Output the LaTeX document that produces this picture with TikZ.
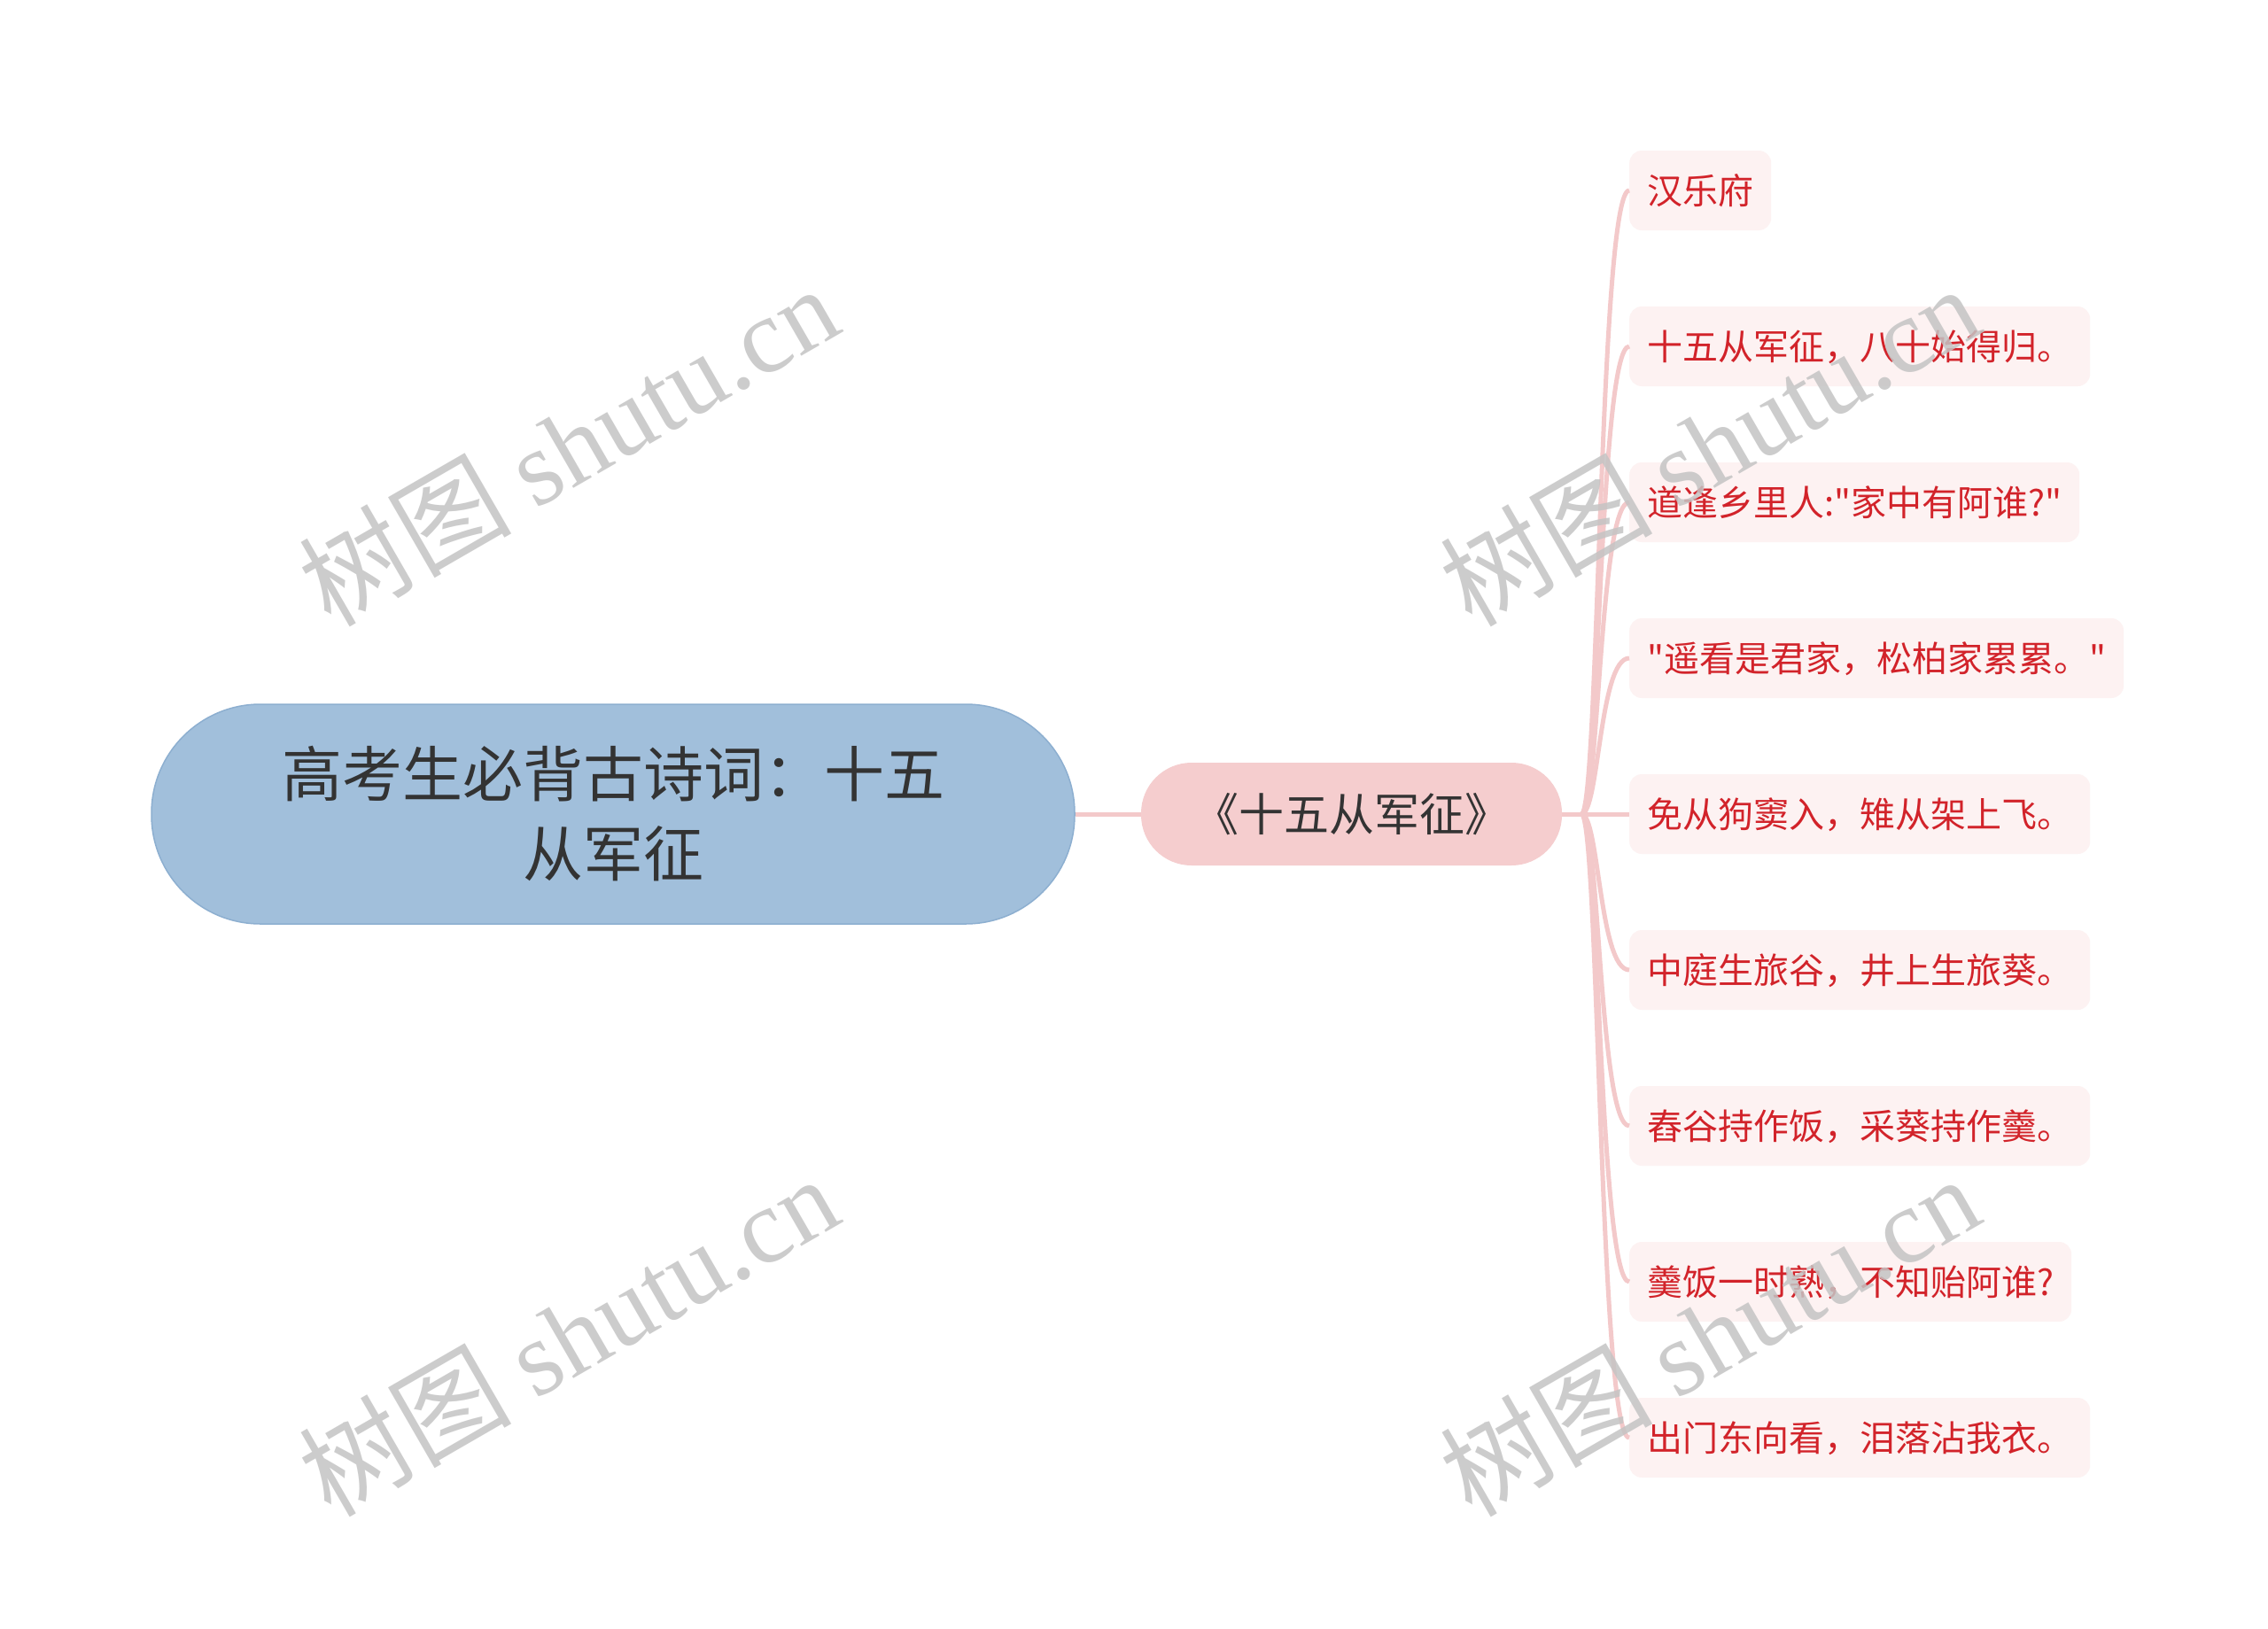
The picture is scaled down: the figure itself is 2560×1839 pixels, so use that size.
\documentclass[tikz,border=0pt]{standalone}
\usepackage{fontspec}
\setmainfont{Noto Sans CJK SC}[Ligatures=TeXOff]
\newfontfamily\wmlatin{Liberation Serif}
\usetikzlibrary{calc}
\definecolor{rootfill}{HTML}{A1BFDB}
\definecolor{rootdraw}{HTML}{8DAFD0}
\definecolor{subfill}{HTML}{F5CDCE}
\definecolor{linkc}{HTML}{F3C9CA}
\definecolor{leaffill}{HTML}{FDF2F2}
\definecolor{leaftext}{HTML}{D2232A}
\definecolor{darktext}{HTML}{333333}
\definecolor{wmgray}{HTML}{C4C4C4}
\begin{document}
\begin{tikzpicture}[x=1pt,y=-1pt,
  rootbox/.style={draw=rootdraw, line width=1.5pt, fill=rootfill, rounded corners=123pt,
    minimum width=1042pt, minimum height=248pt, text=darktext,
    font=\fontsize{68}{90}\selectfont, align=center, inner sep=0pt},
  subbox/.style={fill=subfill, rounded corners=57pt, minimum width=475pt, minimum height=116pt,
    text=darktext, font=\fontsize{51}{58}\selectfont, inner sep=0pt,
    text height=44pt, text depth=6pt},
  leafbox/.style={fill=leaffill, rounded corners=14pt, minimum height=90pt, inner xsep=20pt,
    inner ysep=0pt, text=leaftext, font=\fontsize{40}{48}\selectfont,
    text height=35pt, text depth=5pt, anchor=west},
  link/.style={draw=linkc, line width=5pt},
  wm/.style={text=wmgray, opacity=0.85, font=\fontsize{120}{130}\selectfont, inner sep=0pt}
]
\fill[white] (0,0) rectangle (2560,1839);
\useasboundingbox (0,0) rectangle (2560,1839);

\node[rootbox] (root) at (692,919) {高考生必背古诗词：十五\\从军征};
\node[subbox] (sub) at (1525.5,919) {《十五从军征》};

\node[leafbox] (l1) at (1839,215) {汉乐府};
\node[leafbox] (l2) at (1839,391) {十五从军征，八十始得归。};
\node[leafbox] (l3) at (1839,567) {道逢乡里人:"家中有阿谁?"};
\node[leafbox] (l4) at (1839,743) {"遥看是君家，松柏家累累。"};
\node[leafbox] (l5) at (1839,919) {免从狗窦入，雉从架上飞。};
\node[leafbox] (l6) at (1839,1095) {中庭生旅谷，井上生旅葵。};
\node[leafbox] (l7) at (1839,1271) {舂谷持作饭，采葵持作羹。};
\node[leafbox] (l8) at (1839,1447) {羹饭一时熟，不知贻阿谁?};
\node[leafbox] (l9) at (1839,1623) {出门东向看，泪落沾我衣。};

\coordinate (fork) at (1785,919);
\draw[link] (root.east) -- (sub.west);
\draw[link] (sub.east) -- (fork);
\foreach \n in {l1,l2,l3,l4,l5,l6,l7,l8,l9}{
  \draw[link] (fork) .. controls ($(fork)+(20,0)$) and ($(\n.west)+(-34,0)$) .. (\n.west);
}

\node[wm, rotate=30] (wm1) at (641,502) {树图 {\wmlatin shutu.cn}};
\node[wm, rotate=30] (wm2) at (1929,502) {树图 {\wmlatin shutu.cn}};
\node[wm, rotate=30] (wm3) at (641,1507) {树图 {\wmlatin shutu.cn}};
\node[wm, rotate=30] (wm4) at (1929,1507) {树图 {\wmlatin shutu.cn}};
\end{tikzpicture}
\end{document}
